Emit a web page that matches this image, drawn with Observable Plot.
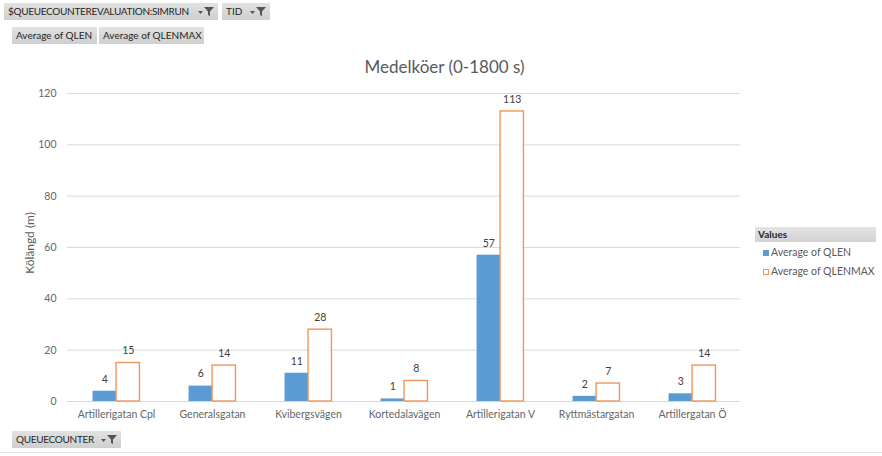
<!DOCTYPE html>
<html>
<head>
<meta charset="utf-8">
<script src="https://cdn.jsdelivr.net/npm/d3@7"></script>
<script src="https://cdn.jsdelivr.net/npm/@observablehq/plot@0.6"></script>
<style>
  html, body { margin: 0; padding: 0; background: #fff; }
  #wrap { position: relative; width: 882px; height: 456px; overflow: hidden; font-family: Lato, "Liberation Sans", sans-serif; }
  #wrap svg.plot { position: absolute; left: 0; top: 0; }
  .btn { position: absolute; height: 17px; background: linear-gradient(#e2e2e2, #cfcfcf); color: #262626;
         font-size: 10px; line-height: 17px; padding-left: 4px; box-sizing: border-box; white-space: nowrap; letter-spacing: 0px; }
  .btn.caps { letter-spacing: -0.3px; }
  .btn svg { position: absolute; top: 3px; }
  .title { position: absolute; left: 0; width: 889px; top: 56px; text-align: center; font-size: 17px; color: #595959; }
  .ylab { position: absolute; left: 29px; top: 243px; transform: translate(-50%, -50%) rotate(-90deg); font-size: 12px; color: #595959; white-space: nowrap; }
  .leghead { position: absolute; left: 755px; top: 227px; width: 121px; height: 15px; background: linear-gradient(#e4e4e4, #d2d2d2);
             font-size: 10px; line-height: 15px; padding-left: 3px; box-sizing: border-box; color: #262626; font-weight: bold; }
  .legitem { position: absolute; left: 763px; font-size: 10.5px; color: #595959; white-space: nowrap; }
  .legitem span.sw { display: inline-block; width: 6px; height: 6px; margin-right: 2px; vertical-align: 0px; box-sizing: border-box; }
  .bottomline { position: absolute; left: 0; top: 452px; width: 882px; height: 1px; background: #e6e6e6; }
</style>
</head>
<body>
<div id="wrap"></div>
<script>
const categories = ["Artillerigatan Cpl", "Generalsgatan", "Kvibergsvägen", "Kortedalavägen", "Artillerigatan V", "Ryttmästargatan", "Artillergatan Ö"];
const qlen = [4, 6, 11, 1, 57, 2, 3];
const qlenmax = [15, 14, 28, 8, 113, 7, 14];
const yTicks = [0, 20, 40, 60, 80, 100, 120];
const seriesNames = ["Average of QLEN", "Average of QLENMAX"];
const titleText = "Medelköer (0-1800 s)";
const yLabel = "Kölängd (m)";

const blue = "#5B9BD5";
const orange = "#F0955A";

const W = 882, H = 456;
const mL = 67, mR = W - 740, mT = 93, mB = H - 401;
const step = (W - mL - mR) / categories.length;
const bw = 23.5;
const half = step / 2;

const rowsA = categories.map((c, i) => ({cat: c, v: qlen[i]}));
const rowsB = categories.map((c, i) => ({cat: c, v: qlenmax[i]}));

const chart = Plot.plot({
  width: W, height: H,
  marginLeft: mL, marginRight: mR, marginTop: mT, marginBottom: mB,
  style: {color: "#666666", fontFamily: "Lato, 'Liberation Sans', sans-serif", fontSize: "10.5px", background: "transparent", overflow: "visible"},
  x: {domain: categories, padding: 0, tickSize: 0, tickPadding: 9, label: null},
  y: {domain: [0, 120], ticks: yTicks, tickSize: 0, tickPadding: 11, label: null},
  marks: [
    Plot.ruleY(yTicks, {stroke: "#d9d9d9", strokeWidth: 1}),
    Plot.barY(rowsA, {x: "cat", y: "v", fill: blue, insetLeft: half - bw, insetRight: half}),
    Plot.barY(rowsB, {x: "cat", y: "v", fill: "white", stroke: orange, strokeWidth: 1.4, insetLeft: half, insetRight: half - bw}),
    Plot.text(rowsA, {x: "cat", y: "v", text: d => String(d.v), dx: -bw / 2, dy: -12, fill: "#404040", fontSize: 10.5}),
    Plot.text(rowsB, {x: "cat", y: "v", text: d => String(d.v), dx: bw / 2, dy: -12, fill: "#404040", fontSize: 10.5})
  ]
});
chart.classList.add("plot");
const wrap = document.getElementById("wrap");
wrap.appendChild(chart);

function funnel() {
  return '<svg width="18" height="11" viewBox="0 0 18 11">' +
    '<path d="M1 5 L6 5 L3.5 8 Z" fill="#555"/>' +
    '<path d="M7 1 L17 1 L13 5.5 L13 10 L11 9 L11 5.5 Z" fill="#555"/></svg>';
}
function addBtn(text, left, top, width, withFunnel, cls) {
  const d = document.createElement("div");
  d.className = "btn" + (cls ? " " + cls : "");
  d.style.left = left + "px"; d.style.top = top + "px"; d.style.width = width + "px";
  d.textContent = text;
  if (withFunnel) {
    d.insertAdjacentHTML("beforeend", funnel());
    d.lastChild.style.left = (width - 21) + "px";
  }
  wrap.appendChild(d);
}
addBtn("$QUEUECOUNTEREVALUATION:SIMRUN", 4, 3, 214, true, "caps");
addBtn("TID", 222, 3, 48, true);
addBtn(seriesNames[0], 12, 27, 85, false);
addBtn(seriesNames[1], 99, 27, 105, false);
addBtn("QUEUECOUNTER", 12, 431, 109, true, "caps");

const t = document.createElement("div");
t.className = "title"; t.textContent = titleText; wrap.appendChild(t);
const yl = document.createElement("div");
yl.className = "ylab"; yl.textContent = yLabel; wrap.appendChild(yl);

const lh = document.createElement("div");
lh.className = "leghead"; lh.textContent = "Values"; wrap.appendChild(lh);
[[seriesNames[0], "background:" + blue + ";", 246], [seriesNames[1], "background:#fff;border:1px solid " + orange + ";", 265]].forEach(([name, sty, top]) => {
  const li = document.createElement("div");
  li.className = "legitem"; li.style.top = top + "px";
  li.innerHTML = '<span class="sw" style="' + sty + '"></span>';
  li.appendChild(document.createTextNode(name));
  wrap.appendChild(li);
});
const bl = document.createElement("div");
bl.className = "bottomline"; wrap.appendChild(bl);
</script>
</body>
</html>
